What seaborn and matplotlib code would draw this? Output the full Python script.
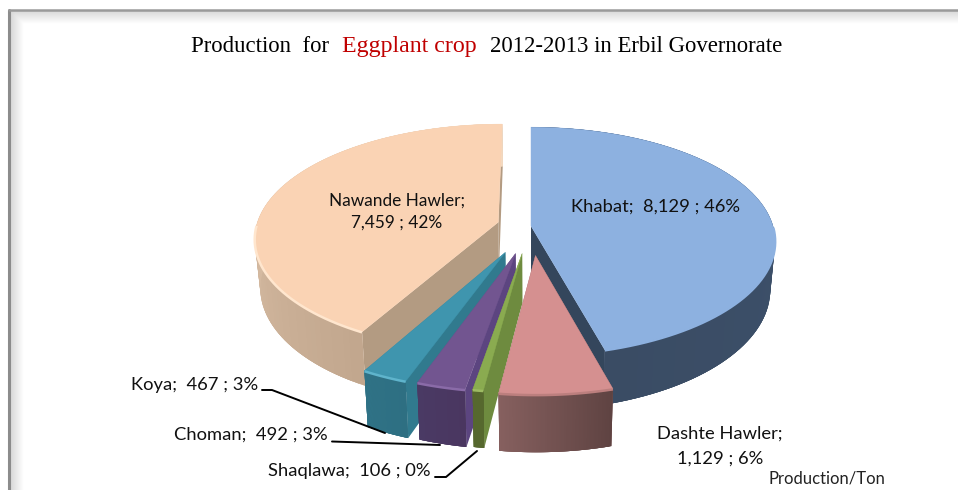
import numpy as np
import matplotlib
matplotlib.use("Agg")
import matplotlib.pyplot as plt
import seaborn as sns

# =====================================
# DATA
# =====================================

regions = ["Khabat", "Dashte Hawler", "Shaqlawa", "Choman", "Koya", "Nawande Hawler"]
production = [8129, 1129, 106, 492, 467, 7459]
shares = [46, 6, 0, 3, 3, 42]

# =====================================
# STYLE
# =====================================

sns.set_theme(style="white")
plt.rcParams["font.family"] = ["Lato", "DejaVu Sans"]

explode = [0.0, 0.255, 0.24, 0.245, 0.25, 0.14]
top_colors = ["#8DB1E0", "#D59090", "#8AAB50", "#725590", "#3F95AE", "#FAD3B4"]
side_colors = ["#34465C", "#7A5555", "#6E8B3F", "#5C4580", "#317A8E", "#B39B82"]
rim_colors = ["#8DB1E0", "#BC7F7E", "#9DBB63", "#8A6BA8", "#5FB4CC", "#FFE6CE"]
wall_from = ["#3F5470", "#5F4342", "#56682E", "#4A3660", "#2E6F82", "#C2A78E"]
wall_to = ["#3A4C64", "#86605F", "#56682E", "#4A3A64", "#2F7286", "#F3D9C0"]

CX, CY = 531, 226
RX, RY = 242, 112
PERSP = 0.133
DEPTH = 48
BOTTOM_SHRINK = 0.98

fig = plt.figure(figsize=(9.58, 4.9), dpi=100)
ax = fig.add_axes([0, 0, 1, 1])
ax.set_xlim(0, 958)
ax.set_ylim(490, 0)
ax.axis("off")


def project(dx, dy):
    s = 1 / (1 - PERSP * dy)
    return CX + RX * dx * s, CY + RY * dy * s, s


def lower(x, y, s):
    return CX + (x - CX) * BOTTOM_SHRINK, y + DEPTH * s


# =====================================
# FRAME
# =====================================

band = sns.blend_palette(["#D6D6D6", "#FFFFFF"], 14)
for k, c in enumerate(band):
    ax.plot([11 + k, 11 + k], [11 + k, 490], color=c, lw=1.1, zorder=1)
    ax.plot([11 + k, 958], [11 + k, 11 + k], color=c, lw=1.1, zorder=1)
ax.plot([9.5, 9.5], [10, 490], color="#8C8C8C", lw=2.2, zorder=2)
ax.plot([9, 958], [10, 10], color="#9A9A9A", lw=1.8, zorder=2)

# =====================================
# PIE
# =====================================

edges = np.concatenate([[0], np.cumsum(production)]) / np.sum(production) * 2 * np.pi

# back to front
order = [5, 0, 4, 3, 2, 1]

for rank, i in enumerate(order):
    t0, t1 = edges[i], edges[i + 1]
    mid = (t0 + t1) / 2
    ox = explode[i] * np.sin(mid)
    oy = -explode[i] * np.cos(mid)
    z = 10 + rank

    theta = np.linspace(t0, t1, 90)
    x, y, s = project(ox + np.sin(theta), oy - np.cos(theta))
    xb, yb = lower(x, y, s)
    ax0, ay0, as0 = project(ox, oy)
    bx0, by0 = lower(ax0, ay0, as0)

    # radial walls
    for j in [0, -1]:
        ax.fill([ax0, x[j], xb[j], bx0], [ay0, y[j], yb[j], by0],
                color=side_colors[i], lw=0, zorder=z)

    # outer wall: flat base first, then overlapping strips for the gradient
    grad = sns.blend_palette([wall_from[i], wall_to[i]], len(theta) - 1)
    ax.fill(np.r_[x, xb[::-1]], np.r_[y, yb[::-1]], color=grad[len(grad) // 2], lw=0, zorder=z)
    for j in range(len(theta) - 1):
        j2 = min(j + 3, len(theta) - 1)
        ax.fill([x[j], x[j2], xb[j2], xb[j]],
                [y[j], y[j2], yb[j2], yb[j]],
                facecolor=grad[j], edgecolor="none", lw=0, zorder=z)

    # top face
    ax.fill(np.r_[ax0, x], np.r_[ay0, y], color=top_colors[i], lw=0.3, zorder=z)

    # rim highlight on the front part
    front = np.cos(theta) < 0
    ax.plot(x[front], y[front] + 0.5, color=rim_colors[i], lw=1.8,
            solid_capstyle="butt", zorder=z)

# =====================================
# TEXT
# =====================================

title_font = dict(family=["Liberation Serif"], va="baseline", zorder=30)
ax.text(191, 52, "Production  for", fontsize=16.4, color="black", **title_font)
ax.text(342, 52, "Eggplant crop", fontsize=17.2, color="#C00000", **title_font)
ax.text(490, 52, "2012-2013 in Erbil Governorate", fontsize=16.4, color="black", **title_font)

label_font = dict(color="#111111", fontsize=13.2, zorder=30)


def label(i):
    return f"{regions[i]};  {production[i]:,} ; {shares[i]}%"


ax.text(656, 207, label(0), ha="center", va="center", **label_font)
ax.text(720, 434, f"{regions[1]};", ha="center", va="center", **label_font)
ax.text(720, 459, f"{production[1]:,} ; {shares[1]}%", ha="center", va="center", **label_font)
ax.text(431, 471, label(2), ha="right", va="center", **label_font)
ax.text(328, 435, label(3), ha="right", va="center", **label_font)
ax.text(258, 385, label(4), ha="right", va="center", **label_font)
ax.text(397, 201, f"{regions[5]};", ha="center", va="center", fontsize=12.4, color="#111111", zorder=30)
ax.text(397, 223, f"{production[5]:,} ; {shares[5]}%", ha="center", va="center", fontsize=12.4, color="#111111", zorder=30)
ax.text(769, 478, "Production/Ton", ha="left", va="center", color="#222222", fontsize=12, zorder=30)

# leader lines
leader = dict(color="black", lw=1.4, zorder=29, solid_joinstyle="miter")
ax.plot([262, 272, 385], [390, 390, 433], **leader)
ax.plot([332, 440], [441.5, 445], **leader)
ax.plot([435, 446, 477], [477, 477, 451], **leader)

fig.savefig("out.png", dpi=100)
